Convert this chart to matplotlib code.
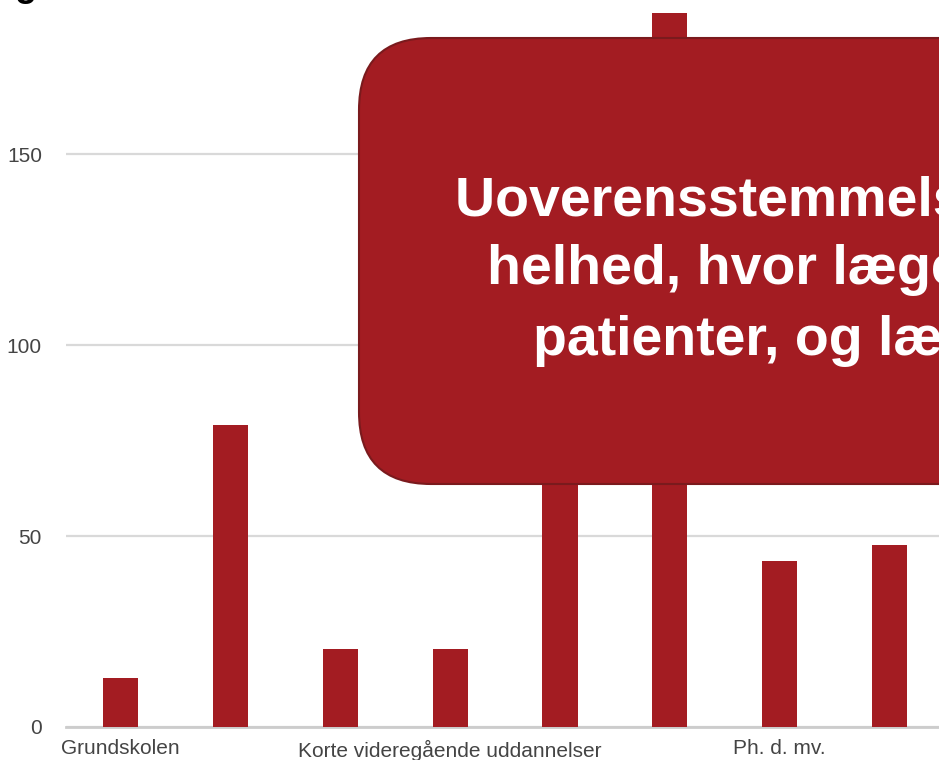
import matplotlib.pyplot as plt
from matplotlib.patches import FancyBboxPatch

# data ------------------------------------------------------------------------
categories = ['Grundskolen', 'Gymnasiale uddannelser', 'Erhvervsfaglige uddannelser',
              'Korte videregående uddannelser', 'Mellemlange videregående uddannelser',
              'Lange videregående uddannelser', 'Ph. d. mv.', 'Uoplyst']
values = [12.8, 79, 20.4, 20.4, 110, 187, 43.5, 47.6]
shown_labels = [0, 3, 6]          # only every third category label is drawn
yticks = [0, 50, 100, 150]
box_lines = ['Uoverensstemmelse mellem', 'helhed, hvor lægen ser', 'patienter, og lægen']

red = '#a31c22'
W, H = 939, 760

plt.rcParams['font.family'] = ['Liberation Sans', 'DejaVu Sans']
fig = plt.figure(figsize=(W / 100, H / 100), dpi=100)

# chart axes (pixel layout from the reference)
ax = fig.add_axes([65.6 / W, 33 / H, 879 / W, 727 / H])
x = list(range(len(categories)))
ax.bar(x, values, width=0.32, color=red, zorder=3)
ax.set_xlim(-0.5, len(categories) - 0.5)
ax.set_ylim(0, 727 / 3.82)
ax.set_yticks(yticks)
ax.set_yticklabels([str(v) for v in yticks])
ax.set_xticks([x[i] for i in shown_labels])
ax.set_xticklabels([categories[i] for i in shown_labels])
ax.tick_params(axis='both', length=0, labelsize=15, colors='#444444')
ax.tick_params(axis='y', pad=17)
ax.tick_params(axis='x', pad=9)
ax.grid(axis='y', color='#d9d9d9', linewidth=1.6, zorder=0)
for s in ['top', 'right', 'left']:
    ax.spines[s].set_visible(False)
ax.spines['bottom'].set_color('#cccccc')
ax.spines['bottom'].set_linewidth(2)
ax.spines['bottom'].set_zorder(2)

# overlay in pixel coordinates -------------------------------------------------
ov = fig.add_axes([0, 0, 1, 1], zorder=10)
ov.set_xlim(0, W)
ov.set_ylim(H, 0)
ov.axis('off')
ov.patch.set_alpha(0)

box = FancyBboxPatch((359, 38), 700, 446,
                     boxstyle='round,pad=0,rounding_size=72',
                     facecolor=red, edgecolor='#7a1a1d', linewidth=1.5)
ov.add_patch(box)

line_x = [455, 487, 533]
line_y = [215, 284, 355]
for t, lx, ly in zip(box_lines, line_x, line_y):
    ov.text(lx, ly, t, color='white', fontsize=40, fontweight='bold',
            ha='left', va='baseline')

# title, cut off at the top of the picture
ov.text(14, -4, 'g', color='black', fontsize=26, fontweight='bold',
        ha='left', va='baseline')

fig.savefig('out.png', dpi=100)
